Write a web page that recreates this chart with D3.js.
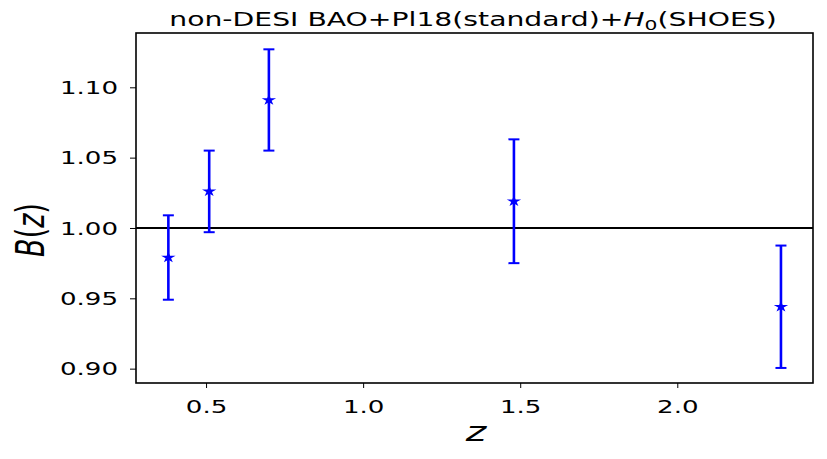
<!DOCTYPE html>
<html><head><meta charset="utf-8">
<script src="https://cdn.jsdelivr.net/npm/d3@7"></script>
<style>body{margin:0;background:#fff}text{font-family:"DejaVu Sans",sans-serif}</style>
</head><body><svg id="c" width="827" height="459"></svg>
<script>
const zValues = [0.38, 0.51, 0.70, 1.48, 2.33];
const bValues = [0.979, 1.026, 1.091, 1.019, 0.944];
const errValues = [0.030, 0.029, 0.036, 0.044, 0.0435];
const xTicks = [0.5, 1.0, 1.5, 2.0];
const yTicks = [0.90, 0.95, 1.00, 1.05, 1.10];
const refLine = 1.0;

const SX = 1.45;
const svg = d3.select("#c");
const L = 136, R = 813, T = 33, B = 383;
const x = d3.scaleLinear().domain([0.277, 2.432]).range([L, R]);
const y = d3.scaleLinear().domain([0.8898, 1.1386]).range([B, T]);

// reference line
svg.append("line").attr("x1", L).attr("x2", R).attr("y1", y(refLine)).attr("y2", y(refLine))
  .attr("stroke", "#000").attr("stroke-width", 1.8);

// error bars
const g = svg.append("g");
zValues.forEach((z, i) => {
  const cx = x(z), lo = y(bValues[i] - errValues[i]), hi = y(bValues[i] + errValues[i]);
  g.append("line").attr("x1", cx).attr("x2", cx).attr("y1", lo).attr("y2", hi).attr("stroke", "#0000ff").attr("stroke-width", 2.6);
  [lo, hi].forEach(v => g.append("line").attr("x1", cx - 5.5).attr("x2", cx + 5.5).attr("y1", v).attr("y2", v).attr("stroke", "#0000ff").attr("stroke-width", 2));
  g.append("path").attr("d", d3.symbol().type(d3.symbolStar).size(38)()).attr("transform", `translate(${cx},${y(bValues[i])}) scale(1.3,1)`).attr("fill", "#0000ff");
});

// axes
const xa = svg.append("g").attr("transform", `translate(0,${B})`)
  .call(d3.axisBottom(x).tickValues(xTicks).tickFormat(d3.format(".1f")).tickSize(5).tickSizeOuter(0));
xa.select(".domain").remove();
xa.selectAll("line").attr("stroke-width", 1);
xa.selectAll("text").attr("font-size", 18).attr("fill", "#000").attr("y", 0).attr("dy", 0)
  .attr("transform", `translate(0,30) scale(${SX},1)`);

const ya = svg.append("g").attr("transform", `translate(${L},0)`)
  .call(d3.axisLeft(y).tickValues(yTicks).tickFormat(d3.format(".2f")).tickSize(6).tickSizeOuter(0));
ya.select(".domain").remove();
ya.selectAll("line").attr("stroke-width", 1);
ya.selectAll("text").attr("font-size", 18).attr("fill", "#000").attr("x", 0).attr("dy", "0.35em")
  .attr("transform", `translate(-18,0) scale(${SX},1)`);

// frame
svg.append("rect").attr("x", L).attr("y", T).attr("width", R - L).attr("height", B - T)
  .attr("fill", "none").attr("stroke", "#000").attr("stroke-width", 1.6);

// title
const t = svg.append("text").attr("transform", `translate(473,26) scale(${SX},1)`).attr("text-anchor", "middle").attr("font-size", 19.5);
t.append("tspan").text("non-DESI BAO+Pl18(standard)+");
t.append("tspan").attr("font-style", "italic").text("H");
t.append("tspan").attr("font-size", 14).attr("dy", 4).text("0");
t.append("tspan").attr("dy", -4).text("(SHOES)");

// x label
svg.append("text").attr("transform", `translate(476,441) scale(${SX},1)`).attr("text-anchor", "middle")
  .attr("font-size", 27).attr("font-style", "italic").text("z");

// y label
const yl = svg.append("text").attr("transform", `translate(44,230) rotate(-90) scale(1,${SX})`).attr("text-anchor", "middle").attr("font-size", 27);
yl.append("tspan").attr("font-style", "italic").text("B");
yl.append("tspan").text("(");
yl.append("tspan").attr("font-style", "italic").text("z");
yl.append("tspan").text(")");
</script></body></html>
